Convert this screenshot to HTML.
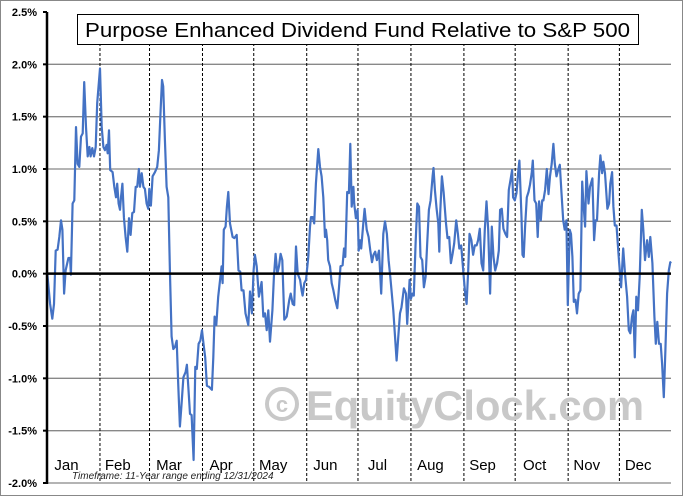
<!DOCTYPE html>
<html><head><meta charset="utf-8"><style>
html,body{margin:0;padding:0;background:#fff;}
svg{display:block;font-family:"Liberation Sans",sans-serif;}
</style></head><body>
<svg id="chart" width="683" height="496" viewBox="0 0 683 496">
<rect x="0.5" y="0.5" width="682" height="495" fill="#fff" stroke="#888" stroke-width="1"/>
<g id="grid"></g>
<g id="watermark">
<circle cx="282" cy="404" r="15" fill="none" stroke="#c8c8c8" stroke-width="4"/>
<text x="282" y="412" font-size="22" font-weight="bold" fill="#c8c8c8" text-anchor="middle">c</text>
<text x="306" y="420" font-size="42" font-weight="bold" fill="#c8c8c8" textLength="338" lengthAdjust="spacingAndGlyphs">EquityClock.com</text>
</g>
<g id="series"></g>
<g id="axes"></g>
<g>
<rect x="77.5" y="14.5" width="561" height="30" fill="#fff" stroke="#000" stroke-width="1"/>
<text x="85" y="37" font-size="20" fill="#000" textLength="545" lengthAdjust="spacingAndGlyphs">Purpose Enhanced Dividend Fund Relative to S&amp;P 500</text>
</g>
<text x="72" y="479" font-size="10" font-style="italic" fill="#222">Timeframe:  11-Year range ending 12/31/2024</text>
</svg>
<script>
const yTicks=[2.5,2.0,1.5,1.0,0.5,0.0,-0.5,-1.0,-1.5,-2.0];
const monthLabels=["Jan","Feb","Mar","Apr","May","Jun","Jul","Aug","Sep","Oct","Nov","Dec"];
const monthStarts=[0,31,60,91,121,152,182,213,244,274,305,335];
const days=[0.2,1.8,3.1,4.1,5.1,6.2,7.2,8.2,9.0,10.0,10.9,12.5,13.5,14.0,15.0,16.0,17.0,17.9,18.9,19.9,20.9,21.8,22.8,23.8,24.8,25.5,26.5,27.5,28.5,29.4,31.0,32.0,33.0,33.9,34.9,35.5,36.3,37.0,38.4,39.4,40.4,41.1,41.9,42.7,43.3,44.1,45.0,46.0,47.0,48.0,48.9,49.9,50.9,51.9,52.8,53.8,54.4,55.4,56.4,57.3,58.3,59.3,59.9,60.8,61.8,63.2,64.5,65.5,66.5,67.3,68.0,69.0,70.0,71.0,71.9,72.9,73.9,74.9,75.9,76.8,77.8,78.8,79.8,81.1,81.9,82.7,83.7,84.6,85.8,86.8,87.7,88.7,89.7,90.7,91.6,92.6,93.6,94.8,96.5,97.3,98.1,99.1,100.2,102.2,102.8,103.5,104.5,105.3,106.1,107.1,108.6,109.6,111.0,112.1,113.1,113.9,115.0,116.2,117.8,118.8,119.9,120.9,121.7,122.7,124.0,
124.7,125.6,126.6,127.6,128.6,129.5,130.5,131.9,132.8,133.8,134.8,135.8,136.7,137.7,138.9,140.3,141.8,142.6,143.8,144.7,145.7,146.7,148.1,149.0,149.6,150.6,151.6,152.9,153.9,154.5,155.5,156.4,157.4,158.8,159.8,160.7,161.7,162.7,163.3,164.0,164.6,165.6,166.6,167.6,168.7,169.9,170.9,171.8,173.0,173.8,174.6,175.7,176.7,177.5,178.3,179.3,179.8,180.8,181.8,182.4,183.2,183.9,185.1,185.9,187.1,188.2,189.2,190.2,191.1,192.1,193.1,194.3,195.6,196.8,197.8,198.9,199.9,200.9,202.7,204.6,205.6,206.6,207.5,208.9,210.1,210.8,212.2,213.0,213.9,214.7,215.7,216.7,217.7,218.6,219.6,220.6,221.6,222.5,223.5,224.5,225.7,226.2,227.0,228.0,229.0,229.6,230.1,231.1,232.1,233.5,234.4,235.4,236.4,237.4,238.3,239.5,240.5,241.3,242.4,243.6,244.6,245.6,246.5,247.3,
247.5,248.4,249.4,250.4,251.4,252.3,253.3,254.3,255.3,256.2,257.2,258.2,258.8,259.3,260.3,261.3,262.3,263.4,264.4,265.2,266.2,267.1,268.3,269.3,270.3,271.2,272.2,272.8,273.8,274.8,275.7,276.5,277.7,278.3,279.0,279.8,280.8,281.8,282.7,283.7,284.3,285.3,286.3,287.2,288.0,289.0,289.8,290.5,291.5,292.5,293.5,294.4,295.4,296.4,297.2,298.2,299.1,300.1,301.1,302.1,303.0,304.0,304.8,305.9,306.7,307.5,308.3,309.3,310.2,311.2,312.2,313.2,313.9,314.9,315.7,316.9,317.8,319.2,320.2,321.0,321.9,323.1,323.9,324.9,325.6,326.6,328.0,329.0,329.7,330.7,331.5,332.3,333.3,334.8,336.0,337.2,338.3,339.5,340.5,341.4,342.4,343.2,344.0,344.9,345.9,346.9,348.1,349.0,350.0,351.2,352.2,353.1,354.3,355.5,356.3,357.2,358.2,359.2,360.0,361.0,361.9,362.9,363.9,364.8,365.2];
const values=[0.00,-0.29,-0.43,-0.29,0.22,0.23,0.35,0.51,0.42,-0.19,0.03,0.15,0.15,-0.01,0.67,0.70,1.40,1.05,1.02,1.31,1.34,1.83,1.40,1.12,1.21,1.12,1.20,1.12,1.21,1.63,1.96,1.40,1.21,1.18,1.23,1.15,1.37,0.99,0.97,0.83,0.73,0.86,0.67,0.61,0.73,0.86,0.54,0.35,0.21,0.53,0.37,0.58,0.59,0.83,0.83,1.00,0.83,0.96,0.83,0.81,0.67,0.62,0.81,0.65,0.93,0.97,1.02,1.18,1.56,1.85,1.79,1.28,0.83,0.73,0.03,-0.60,-0.72,-0.70,-0.64,-1.05,-1.46,-1.24,-0.99,-0.94,-0.87,-1.08,-1.34,-1.35,-1.78,-0.89,-0.91,-0.67,-0.64,-0.54,-0.67,-0.80,-1.07,-1.08,-1.11,-0.80,-0.41,-0.49,-0.22,0.07,-0.09,0.42,0.45,0.64,0.78,0.48,0.35,0.34,0.37,0.03,0.02,-0.16,-0.16,-0.38,-0.49,-0.17,-0.38,0.03,0.18,0.07,-0.22,
-0.16,-0.08,-0.41,-0.38,-0.54,-0.35,-0.65,-0.35,-0.03,0.19,0.00,0.07,0.19,0.13,-0.44,-0.41,-0.25,-0.19,-0.29,-0.30,0.26,0.00,-0.06,-0.16,-0.21,-0.09,-0.06,0.16,0.45,0.54,0.54,0.48,0.86,1.19,1.02,0.93,0.73,0.35,0.42,0.32,0.13,0.07,-0.09,-0.16,-0.25,-0.33,-0.13,0.07,0.08,0.24,0.16,0.78,0.77,1.24,0.64,0.83,0.67,0.53,0.61,0.22,0.32,0.24,0.48,0.62,0.42,0.35,0.22,0.11,0.18,0.21,0.13,0.22,-0.19,0.38,0.50,0.38,0.13,-0.03,-0.35,-0.83,-0.60,-0.38,-0.32,-0.14,-0.19,-0.48,-0.06,-0.24,-0.19,-0.21,0.29,0.67,0.64,0.16,0.13,-0.13,-0.03,0.29,0.61,0.70,0.93,1.01,0.80,0.62,0.48,0.21,0.58,0.93,0.78,0.48,0.34,0.35,0.10,0.19,0.29,0.51,0.38,0.24,0.27,0.03,-0.16,-0.29,0.03,0.38,
0.37,0.32,0.18,0.27,0.27,0.32,0.43,0.10,0.03,0.42,0.69,0.42,0.10,-0.19,0.45,0.16,0.03,0.10,0.22,0.61,0.62,0.43,0.38,0.35,0.80,0.89,0.99,0.73,0.70,0.77,0.96,1.08,0.54,0.18,0.16,0.45,0.73,0.78,0.85,0.96,1.08,0.70,0.67,0.35,0.69,0.51,0.70,0.70,0.80,1.00,0.76,0.93,1.05,1.24,1.05,0.93,0.99,1.04,0.77,0.51,0.42,0.51,-0.30,0.42,0.38,0.16,-0.27,-0.25,-0.38,-0.19,-0.16,0.88,0.69,0.45,0.98,0.67,0.83,0.91,0.32,0.51,0.51,0.96,1.13,0.96,1.07,0.96,0.62,0.67,0.86,0.97,0.64,0.46,0.46,0.11,-0.13,0.24,0.00,-0.22,-0.54,-0.57,-0.41,-0.35,-0.80,-0.22,-0.35,-0.03,0.61,0.42,0.13,0.32,0.16,0.35,0.10,-0.41,-0.67,-0.46,-0.67,-0.67,-0.86,-1.18,-0.73,-0.19,0.03,0.11,0.10];

const NS="http://www.w3.org/2000/svg";
const X0=47,X1=671,Y0=12,Y1=483,VMAX=2.5,VMIN=-2.0,DMAX=365.2;
function xScale(d){return X0+d/DMAX*(X1-X0);}
function yScale(v){return Y0+(VMAX-v)/(VMAX-VMIN)*(Y1-Y0);}
function mk(tag,attrs,parent){const e=document.createElementNS(NS,tag);for(const k in attrs)e.setAttribute(k,attrs[k]);parent.appendChild(e);return e;}
const grid=document.getElementById('grid'),axes=document.getElementById('axes'),series=document.getElementById('series');
yTicks.forEach(t=>{
  const y=yScale(t);
  if(t!==0&&t!==2.5){const g=mk('line',{x1:X0,x2:X1,y1:y,y2:y,stroke:'#888','stroke-width':1.3},grid);
  
  }
  const tk=mk('line',{x1:X0-4,x2:X0,y1:y,y2:y,stroke:'#000','stroke-width':2},axes);
  
  
  const lb=mk('text',{x:X0-10,y:y+4,'font-size':11,'font-weight':'bold','text-anchor':'end',fill:'#000'},axes);
  lb.textContent=t.toFixed(1)+'%';
  
  
});
monthStarts.forEach((d,i)=>{
  const x=xScale(d);
  if(i>0){const l=mk('line',{x1:x,x2:x,y1:Y0+6,y2:Y1,stroke:'#000','stroke-width':1,'stroke-dasharray':'3,2'},grid);
  
  }
  const nx=i<11?monthStarts[i+1]:DMAX;
  const t=mk('text',{x:(x+xScale(nx))/2-7,y:470,'font-size':15,'text-anchor':'middle',fill:'#000'},axes);
  t.textContent=monthLabels[i];
  
  
});
const zl=mk('line',{x1:X0,x2:X1,y1:yScale(0),y2:yScale(0),stroke:'#000','stroke-width':2.5},axes);


const ya=mk('line',{x1:X0,x2:X0,y1:Y0,y2:Y1+1,stroke:'#000','stroke-width':2.5},axes);


const pts=days.map((d,i)=>xScale(d).toFixed(1)+','+yScale(values[i]).toFixed(1)).join(' ');
const pl=mk('polyline',{points:pts,fill:'none',stroke:'#4472c4','stroke-width':2.2,'stroke-linejoin':'round'},series);


</script>
</body></html>
